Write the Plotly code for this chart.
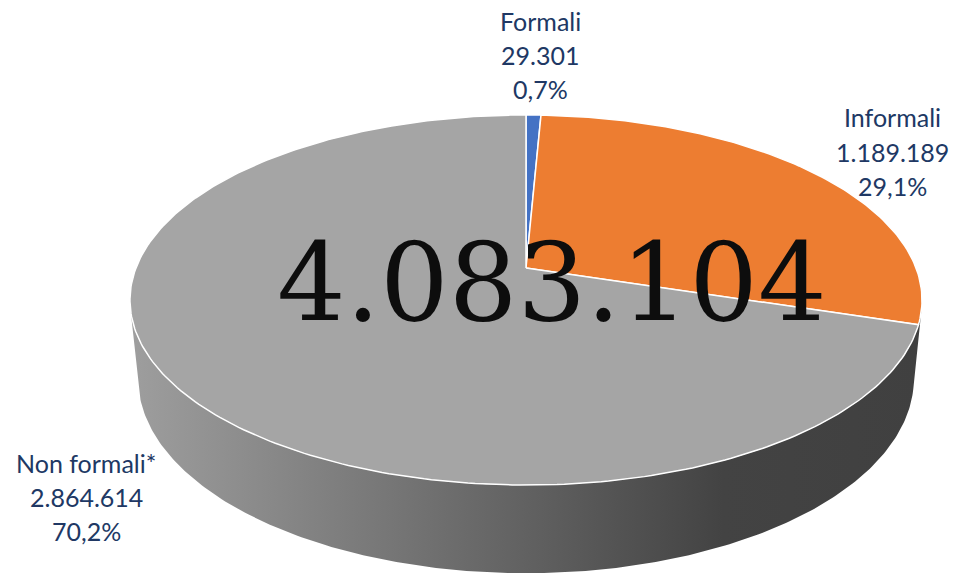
import numpy as np
import plotly.graph_objects as go

# ---------------- data ----------------
categories = ["Formali", "Informali", "Non formali*"]
values = [29301, 1189189, 2864614]
value_labels = ["29.301", "1.189.189", "2.864.614"]
pct_labels = ["0,7%", "29,1%", "70,2%"]
total_label = "4.083.104"
colors = ["#4472C4", "#ED7D31", "#A5A5A5"]

# ---------------- 3D pie projection (perspective camera) ----------------
W, Hpx = 955, 577
CX, V0 = 526.0, 268.0          # screen position of the pie centre
PHI = np.radians(27.4)          # camera pitch
RC = 5.13                       # camera distance (in pie radii)
FOC = 2001.0                    # focal length in pixels
DEPTH = 0.2285                  # pie thickness (in pie radii)
sp, cp = np.sin(PHI), np.cos(PHI)
EY, EZ = RC * sp, RC * cp


def project(X, Z, Y=0.0):
    X = np.asarray(X, float)
    Z = np.asarray(Z, float)
    w = -(Y - EY) * sp + (Z + EZ) * cp
    up = (Y - EY) * cp + (Z + EZ) * sp
    return CX + FOC * X / w, V0 - FOC * up / w


fig = go.Figure()

# side wall (front half of the cylinder)
tg = np.arccos(-1.0 / EZ)
t = np.linspace(tg, 2 * np.pi - tg, 240)
ux_top, vy_top = project(np.sin(t), np.cos(t), 0.0)
ux_bot, vy_bot = project(np.sin(t), np.cos(t), -DEPTH)
wx = np.concatenate([ux_top, ux_bot[::-1], ux_top[:1]])
wy = np.concatenate([vy_top, vy_bot[::-1], vy_top[:1]])
fig.add_trace(go.Scatter(
    x=wx, y=wy, mode="lines", line=dict(width=0, color="rgba(0,0,0,0)"),
    fill="toself",
    fillgradient=dict(type="horizontal",
                      colorscale=[[0, "#9e9e9e"], [0.75, "#434343"], [1, "#404040"]],
                      start=130, stop=921),
    hoverinfo="skip", showlegend=False))

# top face slices
vals = np.array(values, float)
frac = vals / vals.sum()
cum = np.concatenate([[0], np.cumsum(frac)]) * 2 * np.pi
cx0, cy0 = project(0.0, 0.0, 0.0)
for i, name in enumerate(categories):
    a, b = cum[i], cum[i + 1]
    n = max(4, int(400 * (b - a) / (2 * np.pi)))
    tt = np.linspace(a, b, n)
    px, py = project(np.sin(tt), np.cos(tt), 0.0)
    xs = np.concatenate([[cx0], px, [cx0]])
    ys = np.concatenate([[cy0], py, [cy0]])
    fig.add_trace(go.Scatter(
        x=xs, y=ys, mode="lines", line=dict(color="white", width=1.5),
        fill="toself", fillcolor=colors[i], name=name,
        hoverinfo="skip", showlegend=False))

# ---------------- labels ----------------
label_font = dict(family="Lato, Carlito, Calibri, sans-serif", size=25, color="#203864")
label_x = [540, 892, 86]
label_y = [(20.5, 54.5, 88.5), (117, 152, 186), (462.5, 496.5, 530.5)]
for i, name in enumerate(categories):
    lines = [name, value_labels[i], pct_labels[i]]
    for txt, yy in zip(lines, label_y[i]):
        fig.add_annotation(x=label_x[i], y=yy, xref="x", yref="y", showarrow=False,
                           text=txt, xanchor="center", yanchor="middle", font=label_font)

fig.add_annotation(x=552, y=282, xref="x", yref="y", showarrow=False,
                   text=total_label, xanchor="center", yanchor="middle",
                   font=dict(family="DejaVu Serif, Cambria, serif", size=108, color="#0d0d0d"))

fig.update_layout(
    width=W, height=Hpx, margin=dict(l=0, r=0, t=0, b=0),
    paper_bgcolor="white", plot_bgcolor="white",
    xaxis=dict(range=[0, W], visible=False, fixedrange=True),
    yaxis=dict(range=[Hpx, 0], visible=False, fixedrange=True),
)
fig.write_html("out.html", config={"displayModeBar": False},
               post_script="document.body.style.margin='0';document.body.style.overflow='hidden';")
